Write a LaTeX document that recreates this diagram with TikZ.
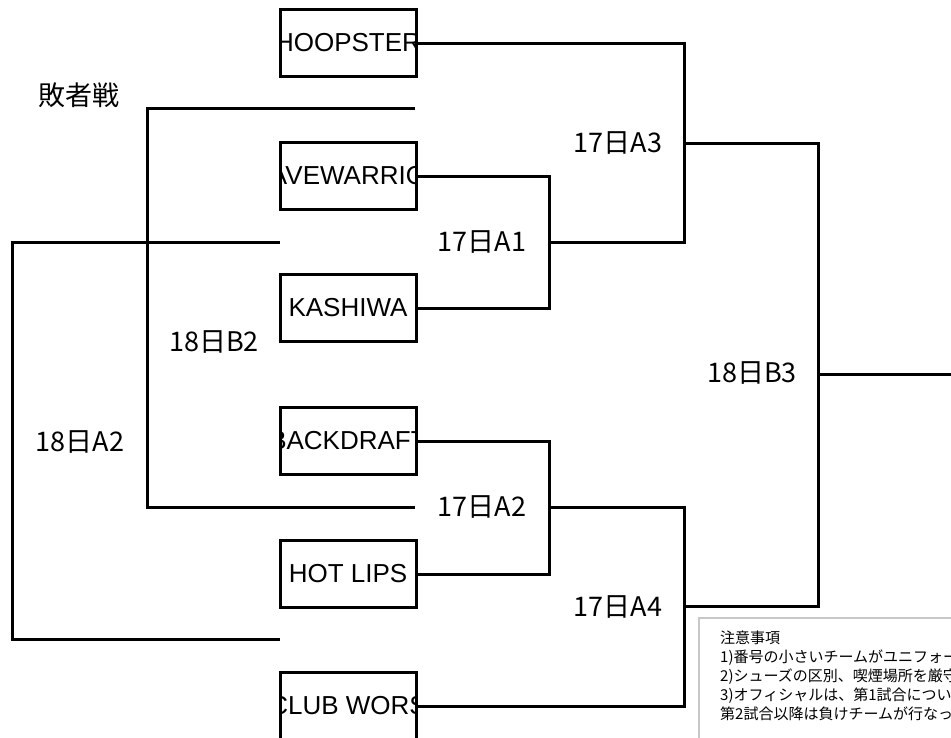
\documentclass[tikz,border=0pt]{standalone}
\usepackage{fontspec}
\setmainfont{Liberation Sans}
\newfontfamily\jp{Noto Sans CJK JP}
\usepackage{tikz}
\tikzstyle{line}=[line width=3pt]
\tikzstyle{lbl}=[font=\jp\fontsize{27}{27}\selectfont,inner sep=0]
\tikzstyle{notes}=[font=\jp\fontsize{15}{19}\selectfont,align=left,inner sep=0]
\tikzset{team/.style={draw,line width=3pt,minimum width=136pt,minimum height=67pt,inner sep=0,
  path picture={\node[font=\fontsize{26}{26}\selectfont] at (path picture bounding box.center) {#1};}}}

\begin{document}
\begin{tikzpicture}[x=1pt,y=-1pt]
	\useasboundingbox (0,0) rectangle (951,737);
	\clip (0,0) rectangle (951,737);

                        \node[team=HOOPSTER] (hoop) at (348,43) {};
                        \node[team=AVEWARRIO] (wave) at (348,176) {};
                        \node[team=KASHIWA] (kash) at (348,308) {};
                        \node[team=BACKDRAFT] (back) at (348,441) {};
                        \node[team={HOT LIPS}] (hot) at (348,574) {};
                        \node[team={CLUB WORS}] (club) at (348,706) {};

                        \coordinate (a1) at (549,242);
                        \coordinate (a2) at (549,507);
                        \coordinate (a3) at (684,143);
                        \coordinate (a4) at (684,606);
                        \coordinate (b3) at (818,374);
                        \coordinate (win) at (951,374);

                        \coordinate (lose1) at (415,108);
                        \coordinate (lose2) at (415,507);
                        \coordinate (b2) at (147,307);
                        \coordinate (lose3) at (280,242);
                        \coordinate (lose4) at (280,639);
                        \coordinate (a2l) at (12,440);

                        \draw[line]
                        (wave.east) -| (a1)
                        (kash.east) -| (a1)
                        (back.east) -| (a2)
                        (hot.east) -| (a2)
                        (a1) -| (a3)
                        (hoop.east) -| (a3)
                        (a2) -| (a4)
                        (club.east) -| (a4)
                        (a3) -| (b3)
                        (a4) -| (b3)
                        (b3) -- (win)
                        (lose1) -| (b2) |- (lose2)
                        (lose3) -| (a2l) |- (lose4)

                        ;

                        \node[lbl] (loser) at (79,95) {敗者戦};
                        \node[lbl] (tA1) at (482,242) {17日A1};
                        \node[lbl] (tA2) at (482,507) {17日A2};
                        \node[lbl] (tA3) at (618,143) {17日A3};
                        \node[lbl] (tA4) at (618,607) {17日A4};
                        \node[lbl] (tB3) at (752,373) {18日B3};
                        \node[lbl] (tB2) at (214,342) {18日B2};
                        \node[lbl] (tA2l) at (80,442) {18日A2};

                        \draw[black!22,line width=2pt] (699,618) rectangle (965,750);
                        \node[notes,anchor=north west] (note) at (720,631)
                        {注意事項\\1)番号の小さいチームがユニフォーム\\2)シューズの区別、喫煙場所を厳守\\3)オフィシャルは、第1試合について\\第2試合以降は負けチームが行なって};

    \end{tikzpicture}
\end{document}
